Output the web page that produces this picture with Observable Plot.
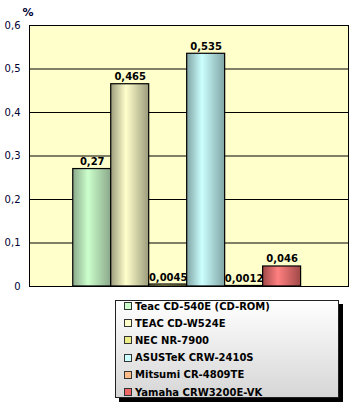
<!DOCTYPE html>
<html>
<head>
<meta charset="utf-8">
<script src="https://cdn.jsdelivr.net/npm/d3@7"></script>
<script src="https://cdn.jsdelivr.net/npm/@observablehq/plot@0.6"></script>
<style>
  html, body { margin: 0; padding: 0; background: #fff; }
  #chart { width: 353px; height: 410px; position: relative; font-family: "DejaVu Sans", Verdana, sans-serif; }
  #legend {
    position: absolute; left: 115px; top: 300px; width: 224px; height: 98px;
    box-sizing: border-box; border: 1px solid #222;
    background: linear-gradient(#ffffff, #d6d6d6);
    box-shadow: 4px 4px 0 #000;
    font-weight: bold; font-size: 10px; color: #000;
    padding-top: 0;
  }
  .item { height: 17.2px; line-height: 15px; display: flex; align-items: center; padding-left: 8px; }
  .item:first-child { margin-top: -3.5px; }
  .sw { width: 6px; height: 6px; border: 1px solid #333; margin-right: 3px; flex: none; }
</style>
</head>
<body>
<div id="chart"></div>
<script>
const names = ["Teac CD-540E (CD-ROM)", "TEAC CD-W524E", "NEC NR-7900", "ASUSTeK CRW-2410S", "Mitsumi CR-4809TE", "Yamaha CRW3200E-VK"];
const values = [0.27, 0.465, 0.0045, 0.535, 0.0012, 0.046];
const yTicks = [0, 0.1, 0.2, 0.3, 0.4, 0.5, 0.6];
const lightColors = ["#ccffcc", "#ffffcc", "#ffff99", "#ccffff", "#ffcc99", "#ff8080"];
const darkColors  = ["#8aa88a", "#9c9c7c", "#a0a060", "#80a4a4", "#a08060", "#a04848"];
const swatchColors = ["#ccffcc", "#ffffcc", "#eeee88", "#ccffff", "#ffbb88", "#ee6666"];

const fmt = v => String(v).replace(".", ",");
const data = names.map((n, i) => ({name: n, value: values[i], grad: `url(#g${i})`}));

const NS = "http://www.w3.org/2000/svg";
function defsMark() {
  const defs = document.createElementNS(NS, "defs");
  const pat = document.createElementNS(NS, "pattern");
  pat.setAttribute("id", "bgpat");
  pat.setAttribute("width", 2); pat.setAttribute("height", 2);
  pat.setAttribute("patternUnits", "userSpaceOnUse");
  const r0 = document.createElementNS(NS, "rect");
  r0.setAttribute("width", 2); r0.setAttribute("height", 2); r0.setAttribute("fill", "#ffffff");
  pat.appendChild(r0);
  [[0,0],[1,1]].forEach(([x,y]) => {
    const r = document.createElementNS(NS, "rect");
    r.setAttribute("x", x); r.setAttribute("y", y);
    r.setAttribute("width", 1); r.setAttribute("height", 1); r.setAttribute("fill", "#ffff99");
    pat.appendChild(r);
  });
  defs.appendChild(pat);
  names.forEach((n, i) => {
    const g = document.createElementNS(NS, "linearGradient");
    g.setAttribute("id", `g${i}`);
    g.setAttribute("x1", 0); g.setAttribute("x2", 1); g.setAttribute("y1", 0); g.setAttribute("y2", 0);
    [[0, darkColors[i]], [0.4, lightColors[i]], [1, darkColors[i]]].forEach(([o, c]) => {
      const s = document.createElementNS(NS, "stop");
      s.setAttribute("offset", o); s.setAttribute("stop-color", c);
      g.appendChild(s);
    });
    defs.appendChild(g);
  });
  return defs;
}

const chart = Plot.plot({
  width: 353,
  height: 296,
  marginLeft: 29,
  marginRight: 5,
  marginTop: 25,
  marginBottom: 10,
  style: {fontFamily: "DejaVu Sans, Verdana, sans-serif", fontSize: "10px", color: "#000033", background: "transparent"},
  x: {domain: names, axis: null, paddingInner: 0, paddingOuter: 1.2, align: 0.48, round: false},
  y: {domain: [0, 0.6], ticks: yTicks, tickFormat: fmt, tickSize: 0, tickPadding: 9, label: null},
  color: {type: "identity"},
  marks: [
    defsMark,
    Plot.frame({fill: "url(#bgpat)", stroke: null}),
    Plot.gridY(yTicks, {stroke: "#000", strokeOpacity: 1, strokeWidth: 1}),
    Plot.barY(data, {x: "name", y: "value", fill: "grad", stroke: "#000", strokeWidth: 1.2, insetLeft: 0, insetRight: 0}),
    Plot.text(data, {x: "name", y: "value", text: d => fmt(d.value), lineAnchor: "bottom", dy: -4, fontWeight: "bold", fontSize: 10, fill: "#000"}),
    Plot.text(["%"], {frameAnchor: "top-left", text: d => d, textAnchor: "start", dx: -7, dy: -17, fontWeight: "bold", fontSize: 11, fill: "#000033"}),
    Plot.frame({stroke: "#000", strokeWidth: 1})
  ]
});
const root = document.getElementById("chart");
root.appendChild(chart);

const legend = document.createElement("div");
legend.id = "legend";
names.forEach((n, i) => {
  const item = document.createElement("div");
  item.className = "item";
  const sw = document.createElement("span");
  sw.className = "sw";
  sw.style.background = swatchColors[i];
  const t = document.createElement("span");
  t.textContent = n;
  item.appendChild(sw); item.appendChild(t);
  legend.appendChild(item);
});
root.appendChild(legend);
</script>
</body>
</html>
